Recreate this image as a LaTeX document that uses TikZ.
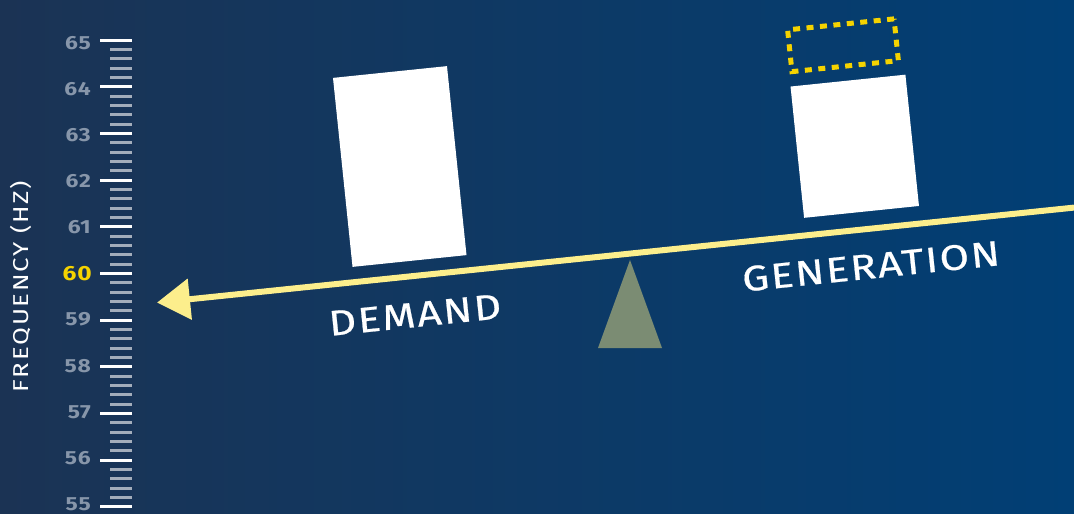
\documentclass[tikz,border=0pt]{standalone}
\usepackage{fontspec}
\setsansfont{Fira Sans}[FakeStretch=1.2,LetterSpace=4]
\renewcommand{\familydefault}{\sfdefault}
\usetikzlibrary{arrows.meta, positioning, calc}

\definecolor{bgleft}{HTML}{1B3354}
\definecolor{bgright}{HTML}{013F75}
\definecolor{beamyellow}{HTML}{FCEE8C}
\definecolor{markyellow}{HTML}{F5D300}
\definecolor{tickgrey}{HTML}{A3ADBB}
\definecolor{labelgrey}{HTML}{8796AA}
\definecolor{fulcrumgreen}{HTML}{7B8C73}

\begin{document}
\begin{tikzpicture}[x=1pt, y=-1pt,
    major/.style={white, line width=3pt},
    minor/.style={tickgrey, line width=3pt},
    scalelabel/.style={anchor=east, labelgrey, inner sep=0pt, font=\fontsize{19}{20}\selectfont\bfseries},
    weight/.style={fill=white, rotate=5.9, inner sep=0pt},
    beamlabel/.style={white, rotate=5.9, anchor=base, inner sep=0pt,
        font=\fontsize{35.5}{40}\selectfont\addfontfeature{FakeBold=0.6,LetterSpace=5}}]
    \useasboundingbox (0,0) rectangle (1074,514);
    % Background
    \shade[left color=bgleft, right color=bgright] (0,0) rectangle (1074,514);

    % Scale
    \foreach \v in {55,...,65} {
        \draw[major] (100,{40+(65-\v)*46.67}) -- (132,{40+(65-\v)*46.67});
    }
    \foreach \v in {55,...,64} {
        \foreach \k in {1,...,4} {
            \draw[minor] (110,{40+(65-\v)*46.67-\k*9.334}) -- (132,{40+(65-\v)*46.67-\k*9.334});
        }
    }
    \foreach \v in {55,...,59,61,62,...,65} {
        \node[scalelabel] (lab\v) at (91,{42.7+(65-\v)*46.13}) {\v};
    }
    \node[scalelabel, markyellow, font=\fontsize{20.5}{22}\selectfont\bfseries] (lab60) at (92,273.3) {60};
    \node[white, rotate=90, anchor=base, inner sep=0pt,
        font=\fontsize{21.5}{24}\selectfont\addfontfeature{LetterSpace=8}] (freq) at (28.3,286.7) {FREQUENCY (HZ)};

    % Fulcrum
    \fill[fulcrumgreen] (630,260) -- (662,348) -- (598,348) -- cycle;

    % Beam
    \coordinate (beamtip) at (157,302.6);
    \coordinate (beamend) at (1074,207.6);
    \draw[beamyellow, line width=6pt, -{Triangle[length=33pt,width=40pt]}] (beamend) -- (beamtip);

    % Weights
    \node[weight, minimum width=114.6pt, minimum height=190pt] (demandbox) at (399.75,166.5) {};
    \node[weight, minimum width=115.5pt, minimum height=132pt] (genbox) at (854.75,146.25) {};
    \node[draw=markyellow, line width=5pt, dash pattern=on 7pt off 6.5pt, rotate=5.9, inner sep=0pt,
        minimum width=107pt, minimum height=42pt] (extrabox) at (843,45.25) {};

    % Labels
    \node[beamlabel] (demand) at (416.2,327) {DEMAND};
    \node[beamlabel] (generation) at (872.2,278.4) {GENERATION};
\end{tikzpicture}
\end{document}
